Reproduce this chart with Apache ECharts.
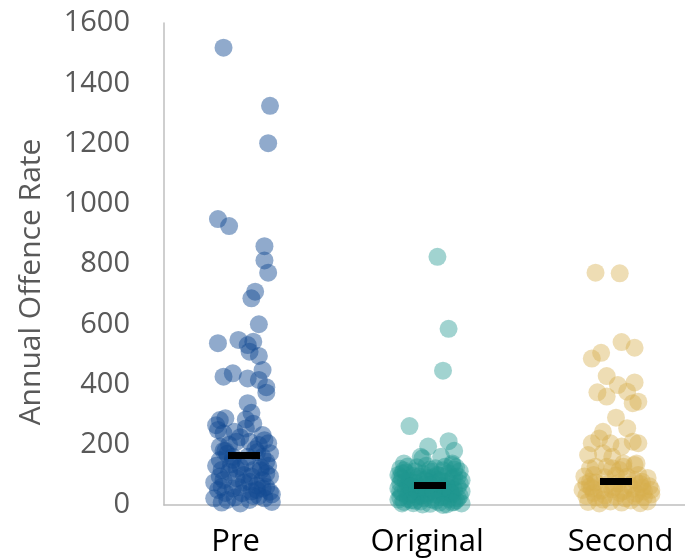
<!DOCTYPE html>
<html>
<head>
<meta charset="utf-8">
<script src="https://cdn.jsdelivr.net/npm/echarts@6/dist/echarts.min.js"></script>
<style>
  html, body { margin: 0; padding: 0; background: #fff; }
  #main { width: 685px; height: 558px; }
</style>
</head>
<body>
<div id="main"></div>
<script type="text/javascript">
    // categories and where their labels sit on the x scale
    var categories = ['Pre', 'Original', 'Second'];
    var labelPos = [0.955, 1.985, 3.025];
    var yTicks = [0, 200, 400, 600, 800, 1000, 1200, 1400, 1600];
    var yTitle = 'Annual Offence Rate';

    // jitter (category units) and annual offence rate
    var preJitter = [-0.11, 0.14, 0.13, -0.14, -0.08, 0.11, 0.11, 0.13, 0.06, 0.04, 0.08, -0.14, -0.03, 0.02, 0.05,
        0.03, 0.08, -0.11, -0.06, 0.02, 0.10, 0.08, 0.12, 0.12, 0.02, 0.04, -0.13, -0.10, 0.01,
        -0.14, -0.11, -0.05, 0.01, 0.10, 0.13, -0.13, -0.04, 0.03, 0.08, 0.14, -0.13, -0.06, 0.02, 0.12,
        -0.12, -0.02, 0.05, 0.12, -0.11, -0.04, 0.03, 0.10, -0.14, -0.06, -0.01, 0.07, 0.14, -0.16, -0.09, 0.03, 0.11,
        -0.10, 0.06, -0.15, 0.09, -0.07, 0.00, -0.13, 0.14, 0.07, -0.03, -0.10, 0.12, -0.05, 0.08, -0.12, 0.15, 0.01, -0.08, 0.04, 0.10,
        -0.15, 0.05, -0.02, 0.11, -0.09, 0.07, -0.12, 0.00, 0.09, -0.06, 0.13, -0.16, 0.05, -0.02, 0.15, -0.08, 0.04, -0.11, 0.10, -0.04];
    var preValues = [1518, 1325, 1201, 949, 926, 859, 812, 771, 708, 686, 600, 537, 548, 531, 542,
        509, 495, 426, 437, 420, 448, 415, 391, 373, 338, 306, 282, 288, 284,
        249, 238, 243, 254, 232, 205, 194, 210, 210, 199, 172, 149, 160, 160, 144,
        116, 127, 116, 105, 83, 89, 77, 83, 50, 55, 39, 50, 44, 22, 17, 17, 22,
        180, 185, 130, 125, 135, 100, 95, 95, 65, 60, 40, 60, 25, 30, 8, 35, 140, 110, 45, 160,
        265, 270, 225, 215, 170, 175, 60, 75, 115, 150, 130, 75, 30, 5, 10, 200, 95, 180, 55, 120];

    var originalJitter = [0.04, 0.10, 0.07, -0.11, -0.01, 0.10, 0.13, -0.14, -0.15, -0.05, 0.06, 0.12, -0.04, 0.12,
        -0.16, -0.12, -0.07, -0.02, 0.03, 0.08, 0.13, 0.16,
        -0.17, -0.13, -0.09, -0.04, 0.01, 0.05, 0.10, 0.15,
        -0.15, -0.11, -0.06, -0.01, 0.04, 0.09, 0.12, 0.17,
        -0.16, -0.12, -0.08, -0.03, 0.02, 0.06, 0.11, 0.15,
        -0.17, -0.13, -0.09, -0.05, 0.00, 0.04, 0.08, 0.13, 0.17,
        -0.15, -0.10, -0.06, -0.02, 0.03, 0.07, 0.12, 0.16,
        -0.16, -0.12, -0.07, -0.03, 0.01, 0.06, 0.10, 0.14,
        -0.14, -0.09, -0.05, 0.00, 0.05, 0.09, 0.13, 0.17,
        -0.11, -0.01, 0.07, -0.05, 0.11, -0.15, 0.02, -0.08,
        -0.14, -0.08, 0.00, 0.07, 0.14, -0.16, -0.06, 0.04, 0.13, -0.13, -0.03, 0.06, 0.16, -0.10, 0.00,
        0.09, -0.16, -0.07, 0.02, 0.11, -0.12, -0.02, 0.08, 0.15, -0.10, 0.03, 0.12, -0.17, -0.04, 0.07];
    var originalValues = [824, 585, 446, 262, 194, 212, 180, 138, 105, 160, 160, 138, 155, 133,
        120, 128, 125, 130, 122, 127, 118, 112,
        100, 108, 96, 104, 110, 98, 105, 95,
        88, 80, 86, 90, 84, 78, 88, 82,
        72, 66, 74, 68, 72, 64, 70, 60,
        55, 50, 58, 52, 56, 48, 54, 50, 45,
        40, 35, 42, 38, 34, 40, 36, 30,
        25, 20, 28, 22, 18, 26, 20, 15,
        10, 6, 12, 4, 8, 2, 10, 5,
        62, 76, 58, 30, 44, 5, 92, 14,
        115, 112, 118, 115, 125, 92, 95, 100, 92, 78, 82, 80, 72, 62, 66,
        60, 45, 48, 44, 40, 30, 32, 28, 22, 16, 14, 8, 18, 2, 0];

    var secondJitter = [-0.11, 0.02, 0.03, 0.10, -0.13, -0.08, -0.05, 0.01, 0.10, -0.10, -0.05, 0.06, 0.12, 0.09,
        0.00, 0.06, -0.07, 0.12, 0.09, -0.13, 0.03, -0.09, -0.03, -0.15, -0.07, -0.02, 0.10, -0.14,
        0.04, -0.05, -0.11, 0.04, 0.11, -0.02, 0.02, 0.10, 0.14, -0.14,
        -0.17, -0.12, -0.06, 0.00, 0.06, 0.12, 0.17,
        -0.16, -0.11, -0.05, 0.01, 0.07, 0.13, 0.18,
        -0.18, -0.13, -0.08, -0.02, 0.04, 0.09, 0.15, 0.19,
        -0.16, -0.11, -0.06, 0.00, 0.05, 0.10, 0.15, 0.19,
        -0.15, -0.09, -0.03, 0.03, 0.08, 0.13, 0.17,
        -0.12, 0.11, -0.01, -0.07, 0.02, 0.14, -0.14];
    var secondValues = [771, 769, 541, 522, 486, 505, 428, 398, 407, 374, 360, 376, 343, 338,
        290, 255, 243, 205, 210, 205, 194, 221, 205, 166, 172, 160, 133, 122,
        127, 127, 127, 138, 138, 122, 116, 83, 77, 77,
        95, 100, 92, 98, 94, 100, 90,
        70, 75, 68, 72, 66, 70, 62,
        50, 55, 48, 52, 46, 54, 45, 50,
        30, 25, 32, 28, 22, 30, 26, 35,
        10, 5, 12, 8, 15, 6, 12,
        40, 38, 60, 18, 40, 58, 62];

    var medians = [164, 65, 78];

    function points(cat, jitter, values) {
        return values.map(function (v, i) { return [cat + jitter[i], v]; });
    }

    var myChart = echarts.init(document.getElementById('main'));
    var font = '"Open Sans", "Noto Sans", sans-serif';

    var option = {
        animation: false,
        backgroundColor: '#ffffff',
        grid: { left: 164, right: 0, top: 23, bottom: 53, containLabel: false },
        graphic: [{
            type: 'text',
            x: 31,
            y: 282,
            rotation: Math.PI / 2,
            style: {
                text: yTitle,
                fill: '#595959',
                font: '30px ' + font,
                textAlign: 'center',
                textVerticalAlign: 'middle'
            }
        }],
        xAxis: {
            type: 'value',
            min: 0.57,
            max: 3.371,
            splitLine: { show: false },
            axisTick: { show: false },
            axisLine: { show: true, lineStyle: { color: '#bfbfbf', width: 1.5 } },
            axisLabel: {
                customValues: labelPos,
                formatter: function (v) { return categories[Math.round(v) - 1]; },
                color: '#000000',
                fontSize: 31,
                fontFamily: font,
                margin: 22
            }
        },
        yAxis: {
            type: 'value',
            min: yTicks[0],
            max: yTicks[yTicks.length - 1],
            interval: 200,
            splitLine: { show: false },
            axisTick: { show: false },
            axisLine: { show: true, lineStyle: { color: '#bfbfbf', width: 1.5 } },
            axisLabel: {
                formatter: function (v) { return String(v); },
                color: '#595959', fontSize: 29, fontFamily: font, margin: 34
            }
        },
        series: [
            {
                type: 'scatter',
                symbolSize: 18,
                itemStyle: { color: '#134a92', opacity: 0.47 },
                data: points(1, preJitter, preValues)
            },
            {
                type: 'scatter',
                symbolSize: 18,
                itemStyle: { color: '#1f978f', opacity: 0.42 },
                data: points(2, originalJitter, originalValues)
            },
            {
                type: 'scatter',
                symbolSize: 18,
                itemStyle: { color: '#d7ad4c', opacity: 0.42 },
                data: points(3, secondJitter, secondValues)
            },
            {
                type: 'scatter',
                symbol: 'rect',
                symbolSize: [32, 7],
                z: 5,
                itemStyle: { color: '#000000', opacity: 1 },
                data: medians.map(function (m, i) { return [i + 1, m]; })
            }
        ]
    };
    myChart.setOption(option);
</script>
</body>
</html>
